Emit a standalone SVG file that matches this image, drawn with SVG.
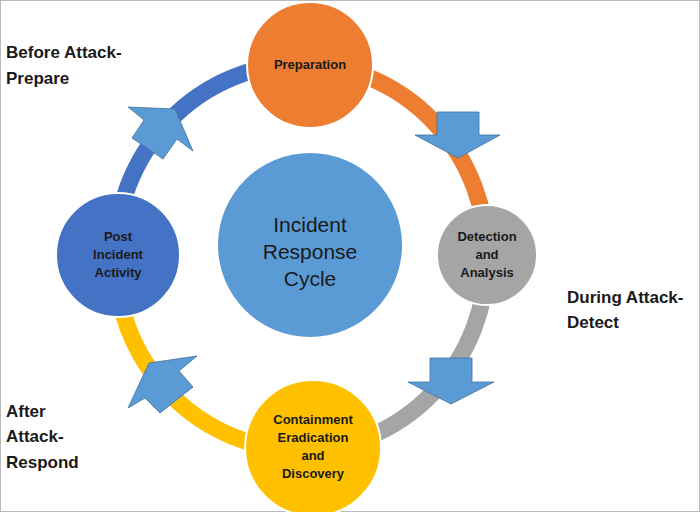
<svg xmlns="http://www.w3.org/2000/svg" width="700" height="512" viewBox="0 0 700 512">
<style>
.n{stroke:#fff;stroke-width:2}
.t{font-family:"Liberation Sans",Arial,sans-serif;font-weight:bold;font-size:13px;text-anchor:middle;fill:#1a1a1a}
.l{font-family:"Liberation Sans",Arial,sans-serif;font-weight:bold;font-size:17px;fill:#1a1a1a}
.a{fill:#5B9BD5;stroke:#41719C;stroke-width:0.8}
.r{fill:none;stroke-width:17}
</style>
<rect x="0.5" y="0.5" width="699" height="511" fill="#fff" stroke="#bbb"/>
<g id="connectors">
<path class="r" stroke="#ED7D31" d="M301,64 A186,193 0 0 1 487,257"/>
<path class="r" stroke="#A5A5A5" d="M487,257 A186,193 0 0 1 301,450"/>
<path class="r" stroke="#FFC000" d="M301,450 A186,193 0 0 1 115,257"/>
<path class="r" stroke="#4472C4" d="M115,257 A186,193 0 0 1 301,64"/>
<polygon class="a" points="437,112 479,112 479,135 500,135 458,158 415,135 437,135"/>
<polygon class="a" points="430,358 472,358 472,382 494,382 451,404 408,382 430,382"/>
<polygon class="a" points="149,363 197,356 179,371 193,387 160,413 145,398 128,408"/>
<polygon class="a" points="175,109 193,151 177,139 163,159 132,138 144,120 128,107"/>
</g>
<g id="center"><circle cx="310" cy="245" r="92" fill="#5B9BD5"/>
<text x="310" y="232" font-family="Liberation Sans,Arial,sans-serif" font-size="21" text-anchor="middle" fill="#1a1a1a">Incident</text>
<text x="310" y="259" font-family="Liberation Sans,Arial,sans-serif" font-size="21" text-anchor="middle" fill="#1a1a1a">Response</text>
<text x="310" y="286" font-family="Liberation Sans,Arial,sans-serif" font-size="21" text-anchor="middle" fill="#1a1a1a">Cycle</text></g>
<g id="preparation"><circle class="n" cx="310" cy="65" r="63" fill="#ED7D31"/><text class="t" x="310" y="69">Preparation</text></g>
<g id="detection"><circle class="n" cx="487" cy="255" r="50" fill="#A5A5A5"/>
<text class="t" x="487" y="241">Detection</text><text class="t" x="487" y="259">and</text><text class="t" x="487" y="277">Analysis</text></g>
<g id="containment"><circle class="n" cx="313" cy="448" r="68" fill="#FFC000"/>
<text class="t" x="313" y="424">Containment</text><text class="t" x="313" y="442">Eradication</text><text class="t" x="313" y="460">and</text><text class="t" x="313" y="478">Discovery</text></g>
<g id="post"><circle class="n" cx="118" cy="255" r="62" fill="#4472C4"/>
<text class="t" x="118" y="241">Post</text><text class="t" x="118" y="259">Incident</text><text class="t" x="118" y="277">Activity</text></g>
<g id="labels">
<text class="l" x="6" y="58">Before Attack-</text><text class="l" x="6" y="84">Prepare</text>
<text class="l" x="567" y="303">During Attack-</text><text class="l" x="567" y="328">Detect</text>
<text class="l" x="6" y="417">After</text><text class="l" x="6" y="442">Attack-</text><text class="l" x="6" y="468">Respond</text>
</g>
</svg>
